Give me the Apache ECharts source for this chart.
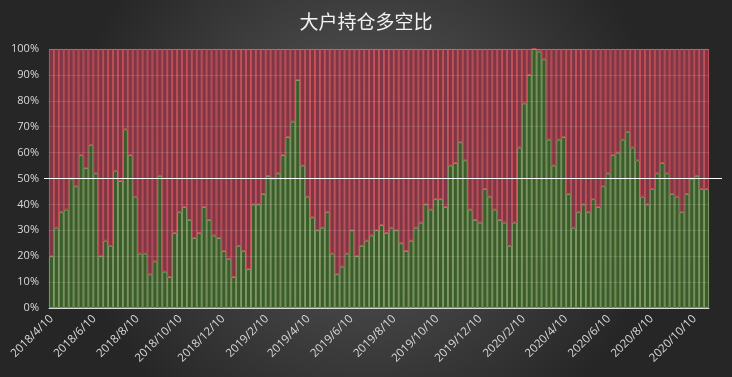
<!DOCTYPE html>
<html>
<head>
<meta charset="utf-8">
<script src="https://cdn.jsdelivr.net/npm/echarts@6/dist/echarts.min.js"></script>
<style>
  html, body { margin: 0; padding: 0; background: #333; }
  #chart { width: 732px; height: 377px; }
</style>
</head>
<body>
<div id="chart"></div>
<script>
  // 周度数据，起始日期 2018/4/10
  var startDate = [2018, 4, 10]
  // 大户多头占比（%），空头 = 100 - 多头
  var longRatio = [
    20, 31, 37, 38, 50, 47, 59, 54, 63, 52,
    20, 26, 24, 53, 49, 69, 59, 43, 21, 21,
    13, 18, 51, 14, 12, 29, 37, 39, 34, 27,
    29, 39, 34, 28, 27, 22, 19, 12, 24, 22,
    15, 40, 40, 44, 51, 50, 52, 59, 66, 72,
    88, 55, 43, 35, 30, 31, 37, 21, 13, 16,
    21, 30, 20, 24, 26, 28, 30, 32, 29, 31,
    30, 25, 22, 26, 31, 33, 40, 38, 42, 42,
    39, 55, 56, 64, 57, 38, 34, 33, 46, 43,
    38, 34, 33, 24, 33, 62, 79, 90, 100, 99,
    96, 65, 55, 65, 66, 44, 31, 37, 40, 37,
    42, 39, 47, 52, 59, 60, 65, 68, 62, 57,
    43, 40, 46, 52, 56, 52, 44, 43, 37, 44,
    50, 51, 46, 46
  ]
  var shortRatio = longRatio.map(function (v) { return 100 - v })
  var tickLabels = [
    '2018/4/10', '2018/6/10', '2018/8/10', '2018/10/10', '2018/12/10',
    '2019/2/10', '2019/4/10', '2019/6/10', '2019/8/10', '2019/10/10',
    '2019/12/10', '2020/2/10', '2020/4/10', '2020/6/10', '2020/8/10', '2020/10/10'
  ]
  var midLine = 50

  var DAY = 24 * 3600 * 1000
  function toDay(s) {
    var p = s.split('/')
    return Math.round(Date.UTC(+p[0], +p[1] - 1, +p[2]) / DAY)
  }
  function fmtDay(n) {
    var d = new Date(n * DAY)
    return d.getUTCFullYear() + '/' + (d.getUTCMonth() + 1) + '/' + d.getUTCDate()
  }

  var day0 = toDay(startDate.join('/'))
  var categories = []
  for (var i = 0; i < longRatio.length; i++) {
    categories.push(fmtDay(day0 + 7 * i))
  }
  // 日期轴范围与柱子的类目带对齐
  var dayMin = day0 - 3.5
  var dayMax = day0 + 7 * (longRatio.length - 1) + 3.5
  var tickDays = tickLabels.map(toDay)

  var chart = echarts.init(document.getElementById('chart'))
  chart.setOption({
    backgroundColor: {
      type: 'radial', x: 0.5, y: 0.45, r: 0.8,
      colorStops: [
        { offset: 0, color: '#5c5c5c' },
        { offset: 1, color: '#262626' }
      ]
    },
    textStyle: { fontFamily: 'Open Sans, Noto Sans CJK SC, sans-serif' },
    title: {
      text: '大户持仓多空比',
      left: 'center',
      top: 7,
      textStyle: { color: '#f2f2f2', fontSize: 19, fontWeight: 'normal', fontFamily: 'Noto Sans CJK SC' }
    },
    grid: [
      { left: 49, right: 23, top: 49, bottom: 69 },
      { left: 44, right: 10, top: 49, bottom: 69 }
    ],
    xAxis: [
      {
        type: 'category',
        gridIndex: 0,
        data: categories,
        axisLine: { lineStyle: { color: '#d8d8d8', width: 1 } },
        axisTick: { show: false },
        axisLabel: { show: false }
      },
      {
        type: 'value',
        gridIndex: 0,
        position: 'bottom',
        min: dayMin,
        max: dayMax,
        axisLine: { show: false },
        axisTick: { show: false },
        splitLine: { show: false },
        axisLabel: {
          customValues: tickDays,
          rotate: 45,
          margin: 9,
          color: '#d9d9d9',
          fontSize: 11.5,
          formatter: function (v) { return fmtDay(v) }
        }
      },
      { type: 'value', gridIndex: 1, min: 0, max: 1, show: false }
    ],
    yAxis: [
      {
        type: 'value',
        gridIndex: 0,
        min: 0,
        max: 100,
        interval: 10,
        z: 5,
        axisLine: { show: false },
        axisTick: { show: false },
        axisLabel: { color: '#d9d9d9', fontSize: 11, margin: 10, formatter: '{value}%' },
        splitLine: { lineStyle: { color: 'rgba(255,255,255,0.12)', width: 1 } }
      },
      { type: 'value', gridIndex: 1, min: 0, max: 100, show: false }
    ],
    series: [
      {
        name: '多',
        type: 'bar',
        stack: 'ratio',
        xAxisIndex: 0,
        yAxisIndex: 0,
        barCategoryGap: '0%',
        data: longRatio,
        itemStyle: { color: '#3b5d2b', borderColor: '#8ea96e', borderWidth: 0.85 }
      },
      {
        name: '空',
        type: 'bar',
        stack: 'ratio',
        xAxisIndex: 0,
        yAxisIndex: 0,
        barCategoryGap: '0%',
        data: shortRatio,
        itemStyle: { color: '#7e3745', borderColor: '#d9555f', borderWidth: 0.85 }
      },
      {
        type: 'line',
        xAxisIndex: 2,
        yAxisIndex: 1,
        data: [],
        silent: true,
        markLine: {
          silent: true,
          symbol: 'none',
          label: { show: false },
          lineStyle: { color: '#ffffff', width: 1.2, type: 'solid' },
          data: [{ yAxis: midLine }]
        }
      }
    ]
  })
</script>
</body>
</html>
